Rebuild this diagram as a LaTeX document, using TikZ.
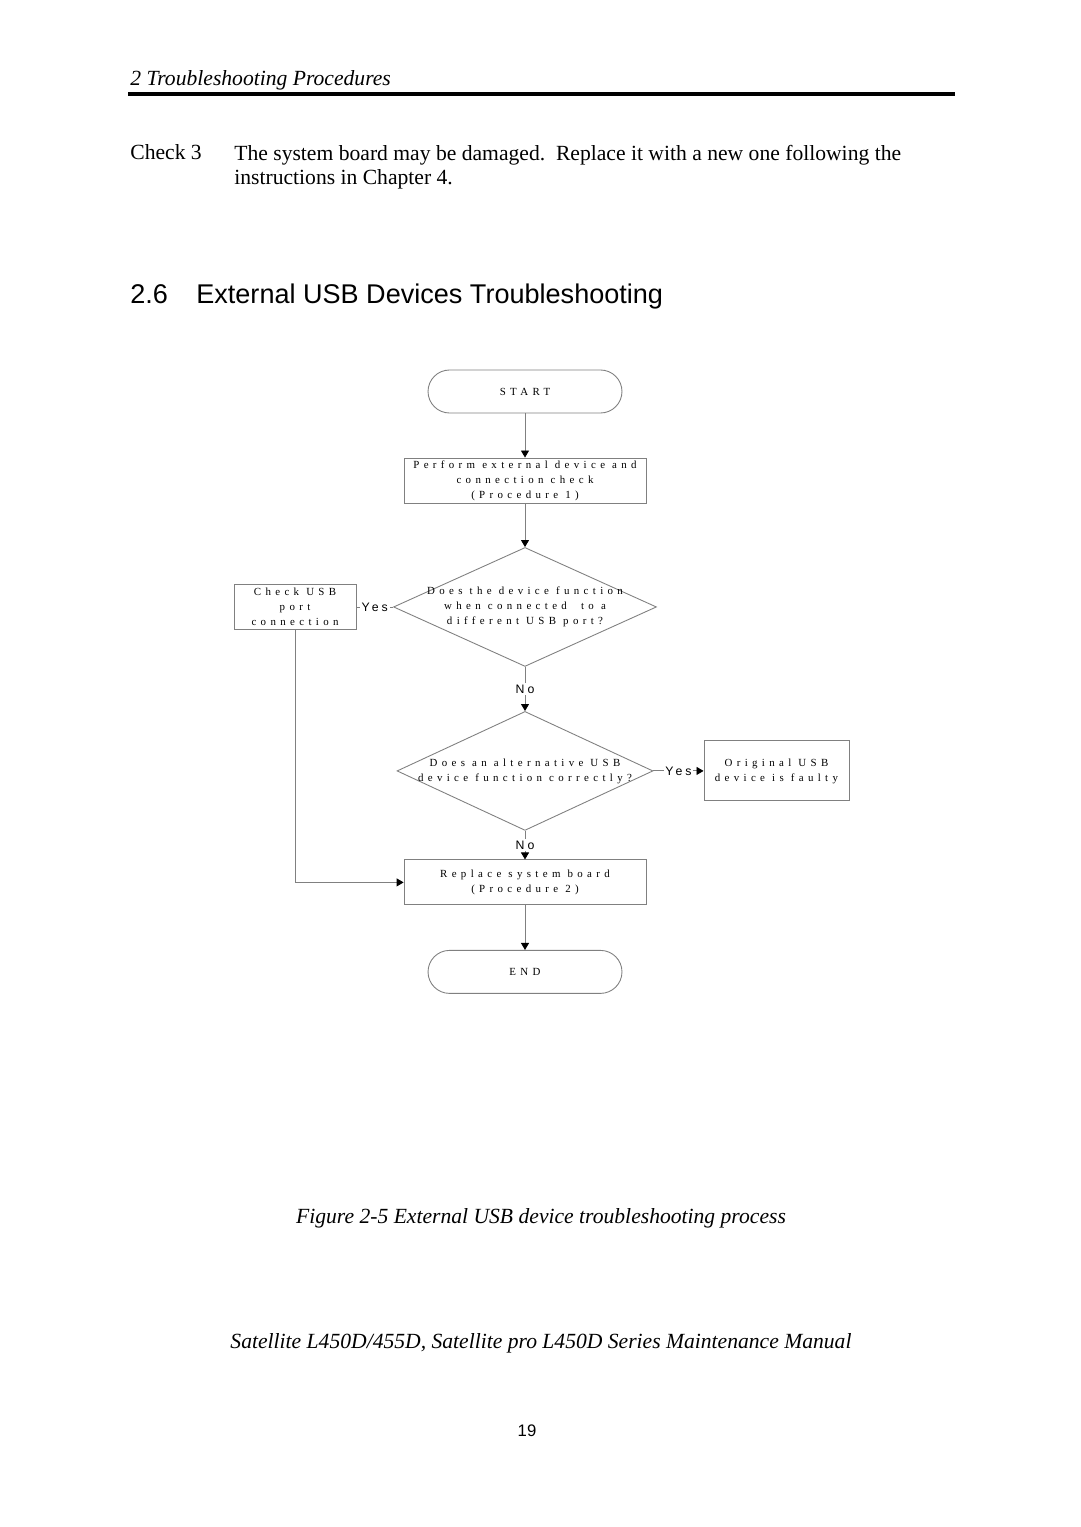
\documentclass[tikz,border=0pt]{standalone}
\usepackage{fontspec}
\setmainfont{Liberation Serif}
\newfontfamily\arialfont{Liberation Sans}
\newfontfamily\chartfont[LetterSpace=40]{Liberation Serif}
\newfontfamily\answerfont[LetterSpace=25]{Liberation Sans}
\usetikzlibrary{shapes.geometric, arrows.meta}
\definecolor{linegray}{gray}{0.5}
\tikzstyle{startstop} = [rectangle, rounded corners=0.43cm, minimum width=3.88cm, minimum height=0.86cm, text centered, draw=linegray, line width=0.5pt, font=\chartfont\fontsize{6.2}{8.5}\selectfont]
\tikzstyle{process} = [rectangle, minimum width=4.84cm, minimum height=0.9cm, align=center, inner sep=0pt, draw=linegray, line width=0.5pt, font=\chartfont\fontsize{6.2}{8.5}\selectfont]
\tikzstyle{decision} = [diamond, minimum width=5.26cm, minimum height=2.38cm, inner sep=0pt, draw=linegray, line width=0.5pt]
\tikzstyle{question} = [align=center, inner sep=0pt, font=\chartfont\fontsize{6.2}{8.5}\selectfont]
\tikzstyle{answer} = [fill=white, inner sep=1pt, font=\answerfont\fontsize{7}{8}\selectfont]
\tikzstyle{arrow} = [draw=linegray, line width=0.5pt, -{Triangle[length=0.14cm, width=0.16cm, color=black]}]
\tikzstyle{line} = [draw=linegray, line width=0.5pt]

\begin{document}
\begin{tikzpicture}[x=0.02cm, y=-0.02cm]

    \useasboundingbox (0,0) rectangle (1080,1527);
    \fill[white] (0,0) rectangle (1080,1527);

    % page text
    \node (chapter) [anchor=base west, inner sep=0pt, font=\fontsize{12.3}{14}\selectfont\itshape] at (130,86) {2 Troubleshooting Procedures};
    \draw[line width=0.08cm] (128,94) -- (955,94);
    \node (check3) [anchor=base west, inner sep=0pt, font=\fontsize{12.3}{14}\selectfont] at (130,160) {Check 3};
    \node (checktext) [anchor=base west, inner sep=0pt, align=left, font=\fontsize{12.3}{14.2}\selectfont] at (234,185) {The system board may be damaged.\ \ Replace it with a new one following the\\instructions in Chapter 4.};
    \node (section) [anchor=base west, inner sep=0pt, font=\arialfont\fontsize{15.4}{18}\selectfont] at (130,304) {2.6};
    \node (title) [anchor=base west, inner sep=0pt, font=\arialfont\fontsize{15.4}{18}\selectfont] at (196,304) {External USB Devices Troubleshooting};

    % flowchart
    \node (start) [startstop] at (525,391.5) {START};
    \node (proc1) [process, below of=start, node distance=1.78cm] {Perform external device and\\connection check\\(Procedure 1)};
    \node (devport) [decision, below of=proc1, node distance=2.53cm, label={[question]center:{Does the device function\\when connected\ \ to a\\different USB port?}}] {};
    \node (usbport) [process, left of=devport, node distance=4.6cm, minimum width=2.44cm] {Check USB\\port\\connection};
    \node (altdev) [decision, below of=devport, node distance=3.28cm, minimum width=5.12cm, label={[question]center:{Does an alternative USB\\device function correctly?}}] {};
    \node (faulty) [process, right of=altdev, node distance=5.03cm, minimum width=2.9cm, minimum height=1.2cm] {Original USB\\device is faulty};
    \node (replace) [process, below of=altdev, node distance=2.23cm] {Replace system board\\(Procedure 2)};
    \node (end) [startstop, below of=replace, node distance=1.79cm] {END};

    \draw [arrow] (start) -- (proc1);
    \draw [arrow] (proc1) -- (devport.north);
    \draw [line] (devport.west) -- node[answer] {Yes} (usbport.east);
    \draw [arrow] (devport.south) -- node[answer] {No} (altdev.north);
    \draw [arrow] (altdev.east) -- node[answer] {Yes} (faulty.west);
    \draw [arrow] (altdev.south) -- node[answer] {No} (replace.north);
    \draw [arrow] (usbport.south) |- (replace.west);
    \draw [arrow] (replace) -- (end);

    % caption and footer
    \node (caption) [anchor=base, inner sep=0pt, font=\fontsize{12.3}{14}\selectfont\itshape] at (541,1223) {Figure 2-5 External USB device troubleshooting process};
    \node (footer) [anchor=base, inner sep=0pt, font=\fontsize{12.3}{14}\selectfont\itshape] at (541,1348) {Satellite L450D/455D, Satellite pro L450D Series Maintenance Manual};
    \node (pagenum) [anchor=base, inner sep=0pt, font=\arialfont\fontsize{9.5}{11}\selectfont] at (527,1436) {19};

\end{tikzpicture}
\end{document}
